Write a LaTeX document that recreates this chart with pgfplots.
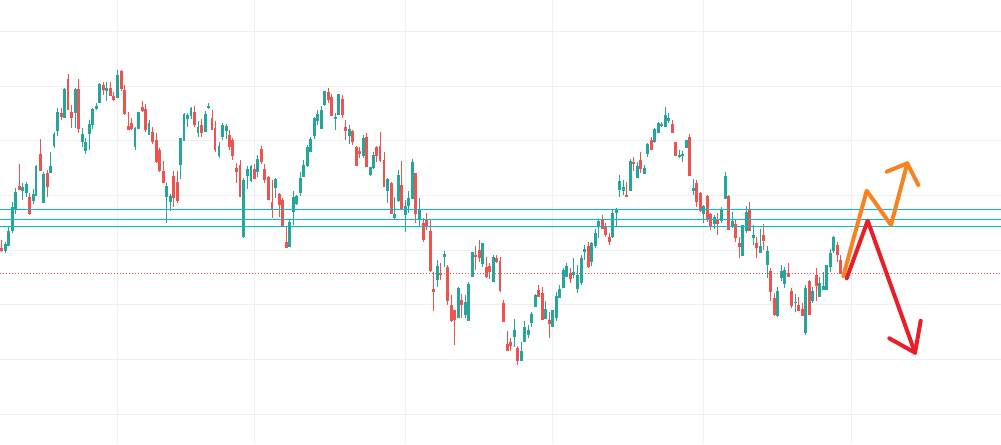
\documentclass[border=0pt]{standalone}
\usepackage{pgfplots}
\usepackage{pgfplotstable}
\pgfplotsset{compat=1.18}
\definecolor{cgreen}{RGB}{38,166,154}
\definecolor{cred}{RGB}{239,83,80}
\definecolor{ccyan}{RGB}{0,188,212}
\definecolor{corange}{RGB}{248,130,32}
\definecolor{carrow}{RGB}{232,30,40}
\definecolor{cgrid}{RGB}{240,240,242}
\pgfplotstableread{
x hi bt bb lo
5.3 241.7 244 250.7 252.7
8.3 226.7 231 245 245
12.3 201.7 207.3 230 233.3
15.3 188.3 191.7 209.3 213.7
22.7 183.3 186.7 190 200
26.3 182.3 184 192 196.7
33.3 189 194.3 200 204.3
36 164.7 165.7 195.7 195.7
43.3 172.3 174 202.7 203.3
50.7 152.3 166 172.7 172.7
54 132 134 145.7 148.3
57.3 108 112 130.3 135.7
64.7 88.3 89 117.7 118.3
75.3 88 88.7 112.7 128.3
82.3 128.3 134 141.7 147
85.3 138 142.3 150.7 153.7
89.3 120 124 133 150
92.3 107.7 108.7 124.7 129
96.3 102.7 105.7 108.3 110
99.7 82.7 84 102.7 102.7
106.7 82.3 87.7 90 100.7
117.3 70 75 97.7 97.7
135 126.7 127.7 146 150
138.3 111.7 112.3 128.3 129.3
149 120 122.7 134 135
166.3 182.7 186 196 223.3
170.3 194 196 201.7 210.7
180.3 138.3 138.3 164.3 179.3
184 113.3 114 140 140.7
187.3 113.3 114.7 118.3 127.3
191 107.3 108 115 119.3
198 121 126.7 132 136.7
205.3 111.3 114 131.7 131.7
208.3 103.3 105.7 107.3 109.3
219 142.3 145.7 155.3 158.3
222.3 123.3 124.7 136 140
226.3 124.3 126 130.7 139.3
243.3 178.3 180 236.7 238.3
247.3 166 169.3 175 189.3
251 165 165.7 180 182.3
257.3 155 159 171.7 176.7
275.3 177.7 179 187.7 197.7
289.7 220 221.7 246 246.7
293.3 191 196.7 211.7 225
296.3 195 195.7 203.3 205
300.3 172.3 177.7 192.7 196
303.3 160.3 165 176.3 176.7
307.3 145 146.7 165.7 166.7
310.3 137.3 139 151 151.7
314.3 117.3 118.3 135 139
317.7 110 114.3 120 125
321.3 105.7 110 128.3 128.3
324.3 90.7 91 104.3 105.7
335.3 113.3 116.7 118.3 130
338.3 94 94 114.3 115
349.3 125 128.7 135 144.3
363.3 135 137.7 155.7 157.7
370.3 166.7 166.7 174.3 175.7
373.3 151.7 155 167.7 169
387.3 178.3 179 190 203.3
394.3 196.7 214 217.7 219.3
398.3 170 175 200 201.7
405.3 200 206 214 231.7
408.3 191 198.3 205.7 213.3
412.3 159.3 161.7 198.3 198.3
419.3 198.3 209.3 218.3 226
437.3 260 266 279.3 287.3
444.3 251 254 256.7 267.3
458.3 286.7 287.7 317.7 318.3
465.3 295 301.7 314 318.3
468.3 281.7 284.3 320 320
472.3 251.7 252 276 276
482.3 243.3 243.3 263.3 266.7
493.3 255 257.3 281.7 281.7
514.3 319 330 336.7 346.7
521.3 341.7 351 360 360
524.3 321 327 341.7 341.7
528.3 325 330 334.3 338.3
531.3 312.3 314 322.7 326.7
535.3 293.7 295 306 306
545.3 301 309 318.3 319
552.3 310 310 326.7 326.7
556.3 291.7 295.7 317.7 321
559.3 285 289.3 297.7 297.7
563.3 267.7 270 287.7 287.7
566.3 262.7 266 276.7 276.7
573.3 257.7 272.3 274 278
577.3 265 275 288.3 292.7
581.3 255 257.7 282.3 285
584.3 245 249 251.7 260
591.3 242.3 243.3 261.7 265.7
595.3 229.3 232.7 245 248.3
598.3 220 221 226 238.3
612.3 209.3 213.3 236.7 238.3
616.3 207.7 209 212.3 226.7
619.3 175 180.7 189.3 197.3
623.3 180 186.7 190.7 195
630.3 159.3 161 190.7 190.7
637.3 161.7 165.7 177.7 178.3
644.3 165 168.3 173.3 174
647.3 143.3 144.3 153.3 156.7
654.3 128.3 129.3 141.7 143.3
658.3 121.7 123.3 132.7 132.7
661.3 121.7 124 125.3 126.7
665.3 107.3 115 126 126
668.3 113.3 118.3 120.7 122.7
679.3 150 155 156.7 158.3
682.3 150.7 154 155.3 161.7
686.3 140 140 147.7 148.3
693.3 179.3 187.7 190 195
703.3 205 206 213.3 223.3
714.3 215 216.7 223.3 229.3
721.3 207.3 209.3 220 222.7
725.3 171.7 176 198.3 199.3
732.3 211.7 220.7 225 228.3
742.3 225 225 255 255
746.3 206 211.7 230 233.3
753.3 225 235 237.7 245
760.3 229 246 252.7 253.3
767.3 246 251 264 277.7
777.3 287.3 291 315 316.7
781.3 265 271 277.3 281
784.3 266.7 270 283.3 287.7
795.3 294 301.7 302.7 311.7
805.3 285 287.7 332.7 335
812.3 286.7 290.7 300 303.3
819.3 276.7 283.3 296 296
823.3 271.7 286 289.3 289.3
826.3 265 265 289.3 290
830.3 249.3 252.7 266.7 271.7
833.3 236 236.7 250 252.7
}\gtab
\pgfplotstableread{
x hi bt bb lo
1.3 240 248 250.7 251.7
19.3 164 186 189.7 190
29.3 193.3 197 213.7 214.7
40.3 139 154 170 170
47.3 170.3 172.7 186 196.7
61.3 107.7 113.3 116 120
68 74.3 79 109.7 110
71.3 104.7 112 117.7 127.7
78.3 79 89 128.3 133.3
103.7 82 85.3 89 95
110.3 82.3 87.7 95.7 96
113.3 91.7 96 99.3 100.7
121.3 69.7 71.3 88.3 90.7
124.3 85 90 113.7 115
128.3 111.7 125.7 129.3 130
131.7 118.3 123.3 128.3 130
142.3 101 106.7 110.7 111.7
145.3 104.3 109 129.3 131.7
152.3 126.7 132 141.7 144
156.3 133.3 140 161.7 162.7
159.3 148.3 150 170.7 171.7
163.3 160.7 171 182.3 182.7
173.3 171 176 197.3 206.7
177.3 171 181.7 200 203.3
194.3 105.7 112.3 124.7 126.7
201.3 119 125 132.3 136.7
212 110 117.7 129 130
215 120.7 127.7 149 151.7
229.3 130 134.7 146.7 150
232.7 138.3 140 155.7 160
236.3 163.3 168.3 171.7 182.7
240 160 165 196 196
254.3 164 169 178.3 179.3
261.3 146 149 161.7 164.3
264.3 164.3 169.3 179 183.3
268.3 175.7 176.7 199.7 200
272 180 201.7 209.3 218.3
279.3 192.7 194.3 204 216.7
282.3 198.3 200 225 225
286.3 226.7 241.7 247.3 248.3
328.3 88.3 92.3 99 103.3
331.3 94.3 96.7 115.7 115.7
342.3 95 99 114.3 118.3
345.7 120 126.7 130.7 140
352.7 130 131 141 145
356.3 145.7 147 165 165
359.3 146.7 150.7 153.3 158.3
366.3 132.7 136.7 166.7 166.7
376.7 146 147 155 161.7
380 132 146 160 161.7
384 151.7 160 186 186.7
391.3 181.7 182.7 213.3 213.3
401.3 161 185 209.3 210
415.3 172.7 173.3 213.3 222.7
423.3 218.3 223.3 239.3 241.7
426.3 213.3 220 226 230
430.3 220 231 270 271.7
433.3 271.7 289.3 291.7 310.7
440.3 263.3 273.3 274.7 280
447.3 265 266.7 300.7 305
451.3 295 305 320 321.7
454.3 310 310 319.3 345
461.3 294 300 304 318.3
475.3 246 255 256.7 270
479.3 240 250 257.3 261.7
486.3 256.7 266.7 276 278.3
489.3 263.3 266 271.7 279.3
496.3 255 258.3 261.7 263.3
500 257 261 290.7 292
503.3 300 302.7 321 321
507.3 331 344 350 350
510.3 337.7 341.7 345 351
517.3 345.7 347.7 360 365
538.3 285 290 296 296.7
542.3 286.7 293.3 319.3 320
549.3 312.3 320 323.3 338.3
570.3 268.3 273.3 278.3 283.3
588.3 241.7 246 266.7 267.7
602.3 215 219 228.3 228.3
605.3 223.3 227.3 234.3 236.7
609.3 233.3 236.7 241.7 245
626.3 182 195 196 196.7
633.3 156.7 161.7 163.3 170.7
640.3 152.3 160 168.3 173.3
651.3 137.3 140 149.3 150
672.3 120 124 132.7 132.7
675.3 141.7 141.7 155 156
689.3 134.3 136.7 175.7 175.7
696.3 180 182.7 201.7 207.3
700.3 191.7 192.7 210.7 211.7
707.3 195 196 219.3 221.7
710.3 213.3 214 225 230
717.3 213.3 220 223.3 235
728.3 195 196 229.3 230
735.3 220 224 237.3 241.7
739.3 236.7 242.7 246.7 258.3
749.3 202.3 210 230 230
756.3 236.7 242.7 247.7 257.7
763.3 224 235 240.7 250
770.3 268.3 271 291.7 300.7
774.3 292.7 297.7 314.3 316
788.3 262.7 273.3 276 276
791.3 288.3 291 305 307.7
798.3 297.3 305 310.7 310.7
802.3 303.3 309.3 315 315
809.3 280 281 314 314
816.3 268.3 275 285 300.7
837.3 241.7 245 254 261.7
840.3 255 260 273.3 273.3
}\rtab
\begin{document}
\begin{tikzpicture}
\begin{axis}[name=ax,
  width=1001bp, height=444bp, scale only axis,
  xmin=0, xmax=1001, ymin=0, ymax=444, y dir=reverse,
  axis line style={draw=none},
  xtick={117,254,405,552,703,851},
  ytick={31.3,86,140.5,195,250,304.7,359.4,414},
  xticklabels={}, yticklabels={},
  major tick length=0pt,
  grid=major, major grid style={draw=cgrid, line width=1bp},
  clip=true]
% dotted price line
\addplot[cred, line width=1bp, dash pattern=on 1bp off 2bp] coordinates {(0,273.3) (1001,273.3)};
% candle wicks and bodies
\addplot[draw=none, mark=none, error bars/.cd, y dir=plus, y explicit, error mark=none,
  error bar style={draw=cgreen, line width=1bp}]
  table[x=x, y=hi, y error expr=\thisrow{lo}-\thisrow{hi}] {\gtab};
\addplot[draw=none, mark=none, error bars/.cd, y dir=plus, y explicit, error mark=none,
  error bar style={draw=cgreen, line width=2.8bp}]
  table[x=x, y=bt, y error expr=\thisrow{bb}-\thisrow{bt}+0.6] {\gtab};
\addplot[draw=none, mark=none, error bars/.cd, y dir=plus, y explicit, error mark=none,
  error bar style={draw=cred, line width=1bp}]
  table[x=x, y=hi, y error expr=\thisrow{lo}-\thisrow{hi}] {\rtab};
\addplot[draw=none, mark=none, error bars/.cd, y dir=plus, y explicit, error mark=none,
  error bar style={draw=cred, line width=2.8bp}]
  table[x=x, y=bt, y error expr=\thisrow{bb}-\thisrow{bt}+0.6] {\rtab};
% horizontal levels
\addplot[ccyan, line width=1bp] coordinates {(0,209.3) (1001,209.3)};
\addplot[ccyan, line width=1bp] coordinates {(0,219.3) (1001,219.3)};
\addplot[ccyan, line width=1.2bp] coordinates {(0,226.3) (1001,226.3)};
% drawn arrows
\addplot[corange, line width=4bp, line join=round, line cap=round] coordinates {(843.3,276) (866.7,190.7) (891,225) (907.3,163.3)};
\addplot[corange, line width=4bp, line join=round, line cap=round] coordinates {(886.7,171.7) (907.3,163.3) (918.3,185)};
\addplot[carrow, line width=4bp, line join=round, line cap=round] coordinates {(846.7,278.3) (867.7,220.7) (915,352.7)};
\addplot[carrow, line width=4bp, line join=round, line cap=round] coordinates {(889.3,338.3) (915,352.7) (920.7,320.7)};
\end{axis}
\pgfresetboundingbox
\path[use as bounding box] (ax.south west) rectangle (ax.north east);
\end{tikzpicture}
\end{document}
